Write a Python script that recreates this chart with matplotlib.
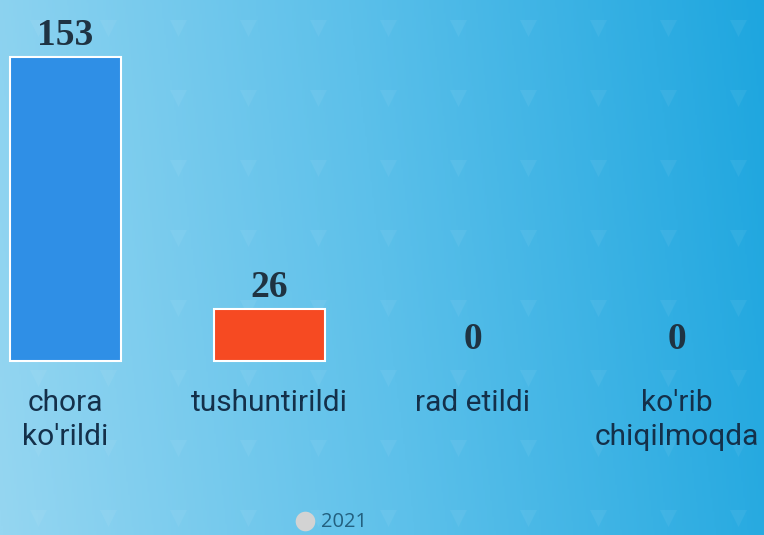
import numpy as np
import matplotlib.pyplot as plt
from matplotlib.colors import LinearSegmentedColormap

categories = ["chora\nko'rildi", "tushuntirildi", "rad etildi", "ko'rib\nchiqilmoqda"]
values = [153, 26, 0, 0]
bar_colors = ["#2f8fe6", "#f64a22", "#2f8fe6", "#f64a22"]
legend_label = "2021"

W, H = 764, 535
fig = plt.figure(figsize=(W / 100, H / 100), dpi=100)

# background gradient
bg = fig.add_axes([0, 0, 1, 1])
bg.set_axis_off()
cmap = LinearSegmentedColormap.from_list("bg", ["#95d6f1", "#5cc0ea", "#1ea6df"])
gx = np.linspace(0, 1, 400)
gy = np.linspace(0, 1, 200)
gxx, gyy = np.meshgrid(gx, gy)
grad = np.clip(gxx * 0.92 + (1 - gyy) * 0.08, 0, 1)
bg.imshow(grad, cmap=cmap, aspect="auto", extent=[0, W, H, 0])
# faint triangle pattern
tx, ty = np.meshgrid(np.arange(38, W + 10, 70), np.arange(28, H + 10, 70))
bg.scatter(tx.ravel(), ty.ravel(), marker="v", s=150, color="white", alpha=0.06, lw=0)
# legend marker
bg.scatter([305], [521], s=200, color="#d3d3d3", lw=0, zorder=5)
bg.text(321, 522, legend_label, ha="left", va="center", fontsize=14.5,
        family="Open Sans", color="#23607f")
bg.set_xlim(0, W)
bg.set_ylim(H, 0)

# main chart: category spacing 204 px, first center at 65 px, baseline at 361 px
ppu = 304 / 153
ax = fig.add_axes([0, 0, 1, 1])
ax.patch.set_alpha(0)
x = np.arange(len(categories))
edges = ["white" if v > 0 else "none" for v in values]
ax.bar(x, values, width=111 / 204, color=bar_colors, edgecolor=edges, linewidth=1.5)
ax.set_xlim(-65 / 204, (W - 65) / 204)
ax.set_ylim(-(H - 361) / ppu, 361 / ppu)
ax.set_axis_off()

for xi, v in zip(x, values):
    ax.annotate(str(v), (xi, v), xytext=(0, 3), textcoords="offset points",
                ha="center", va="bottom", fontsize=27, fontweight="bold",
                family="Liberation Serif", color="#1f3342")

for xi, lab in zip(x, categories):
    ax.annotate(lab, (xi, 0), xytext=(0, -20), textcoords="offset points",
                ha="center", va="top", fontsize=21.5, family="Roboto",
                color="#14304a", linespacing=1.3)

fig.savefig("out.png", dpi=100)
